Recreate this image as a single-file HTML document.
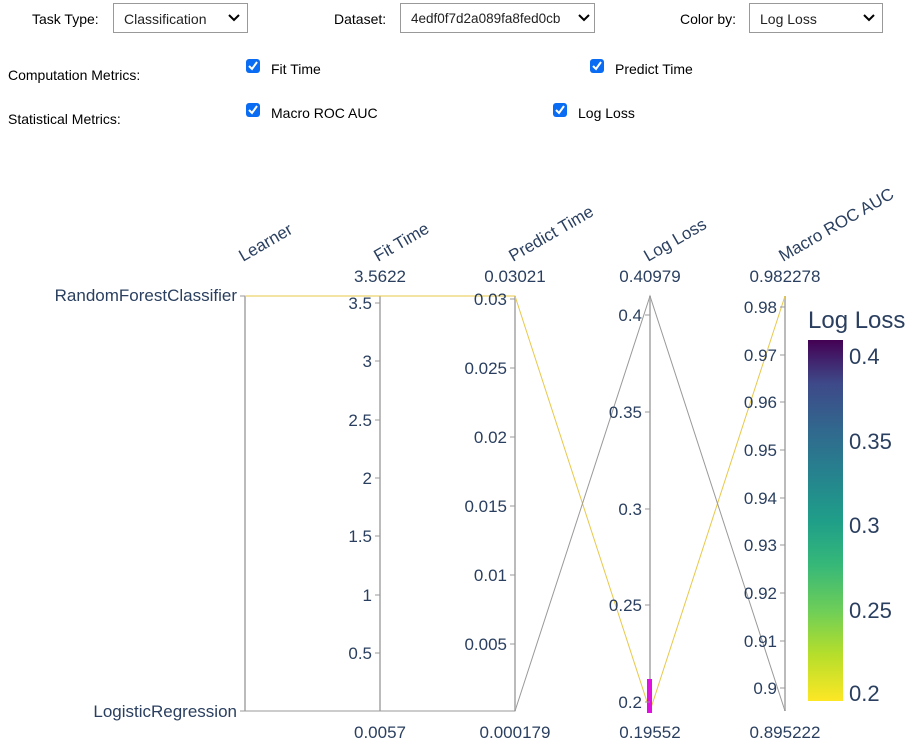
<!DOCTYPE html>
<html><head><style>
body{margin:0;width:923px;height:746px;background:#fff;font-family:"Liberation Sans",sans-serif;overflow:hidden;position:relative}
.l{position:absolute;font-size:14px;color:#000}
.sel{position:absolute;top:3px;height:30px;border:1px solid #999;box-sizing:border-box;font-size:14px;padding:7px 0 0 10px;color:#222}
.sel svg{position:absolute;right:6px;top:9px}
.cb{position:absolute;width:14px;height:14px;background:#0a6cf2;border-radius:3px}
.cb svg{position:absolute;left:2px;top:2px}
</style></head><body>
<div class="l" style="left:32px;top:11px">Task Type:</div>
<div class="sel" style="left:113px;width:135px">Classification<svg width="14" height="10"><path d="M2 2l5 5 5-5" stroke="#000" stroke-width="2" fill="none"/></svg></div>
<div class="l" style="left:334px;top:11px">Dataset:</div>
<div class="sel" style="left:400px;width:195px;padding-left:10px;font-size:13.5px">4edf0f7d2a089fa8fed0cb<svg width="14" height="10" style="right:3px"><path d="M2 2l5 5 5-5" stroke="#000" stroke-width="2" fill="none"/></svg></div>
<div class="l" style="left:680px;top:11px">Color by:</div>
<div class="sel" style="left:749px;width:134px">Log Loss<svg width="14" height="10"><path d="M2 2l5 5 5-5" stroke="#000" stroke-width="2" fill="none"/></svg></div>
<div class="l" style="left:8px;top:67px">Computation Metrics:</div>
<div class="l" style="left:8px;top:111px">Statistical Metrics:</div>
<div class="cb" style="left:246px;top:59px"><svg width="10" height="10"><path d="M1 5l3 3 5-7" stroke="#fff" stroke-width="2" fill="none"/></svg></div>
<div class="l" style="left:271px;top:61px">Fit Time</div>
<div class="cb" style="left:590px;top:59px"><svg width="10" height="10"><path d="M1 5l3 3 5-7" stroke="#fff" stroke-width="2" fill="none"/></svg></div>
<div class="l" style="left:615px;top:61px">Predict Time</div>
<div class="cb" style="left:246px;top:103px"><svg width="10" height="10"><path d="M1 5l3 3 5-7" stroke="#fff" stroke-width="2" fill="none"/></svg></div>
<div class="l" style="left:271px;top:105px">Macro ROC AUC</div>
<div class="cb" style="left:553px;top:103px"><svg width="10" height="10"><path d="M1 5l3 3 5-7" stroke="#fff" stroke-width="2" fill="none"/></svg></div>
<div class="l" style="left:578px;top:105px">Log Loss</div>
<svg width="923" height="746" style="position:absolute;left:0;top:0" font-family="Liberation Sans, sans-serif" fill="#2a3f5f" font-size="17">
<defs><linearGradient id="g" x1="0" y1="1" x2="0" y2="0">
<stop offset="0" stop-color="#fde725"/><stop offset="0.13" stop-color="#b5de2b"/><stop offset="0.25" stop-color="#6ece58"/><stop offset="0.38" stop-color="#35b779"/><stop offset="0.5" stop-color="#1f9e89"/><stop offset="0.63" stop-color="#26828e"/><stop offset="0.75" stop-color="#31688e"/><stop offset="0.88" stop-color="#3e4989"/><stop offset="1" stop-color="#440154"/></linearGradient></defs>
<g stroke="#bbb" stroke-width="2"><line x1="245" y1="296" x2="245" y2="711"/><line x1="380" y1="296" x2="380" y2="711"/><line x1="515" y1="296" x2="515" y2="711"/><line x1="650" y1="296" x2="650" y2="711"/><line x1="785" y1="296" x2="785" y2="711"/></g>
<polyline points="245,296 380,296 515,296 650,711 785,296" fill="none" stroke="#e8c84a" stroke-width="1"/>
<polyline points="245,711 380,711 515,711 650,296 785,711" fill="none" stroke="#999" stroke-width="1"/>
<rect x="647" y="679" width="5" height="34" fill="#e010e0"/>
<g stroke="#999" stroke-width="1">
<line x1="240" y1="296" x2="245" y2="296"/><line x1="240" y1="711" x2="245" y2="711"/>
<line x1="375" y1="303" x2="380" y2="303"/><line x1="375" y1="361" x2="380" y2="361"/><line x1="375" y1="420" x2="380" y2="420"/><line x1="375" y1="478" x2="380" y2="478"/><line x1="375" y1="536" x2="380" y2="536"/><line x1="375" y1="595" x2="380" y2="595"/><line x1="375" y1="653" x2="380" y2="653"/>
<line x1="510" y1="299" x2="515" y2="299"/><line x1="510" y1="368" x2="515" y2="368"/><line x1="510" y1="437" x2="515" y2="437"/><line x1="510" y1="506" x2="515" y2="506"/><line x1="510" y1="575" x2="515" y2="575"/><line x1="510" y1="644" x2="515" y2="644"/>
<line x1="645" y1="315" x2="650" y2="315"/><line x1="645" y1="412" x2="650" y2="412"/><line x1="645" y1="509" x2="650" y2="509"/><line x1="645" y1="605" x2="650" y2="605"/><line x1="645" y1="702" x2="650" y2="702"/>
<line x1="780" y1="307" x2="785" y2="307"/><line x1="780" y1="355" x2="785" y2="355"/><line x1="780" y1="402" x2="785" y2="402"/><line x1="780" y1="450" x2="785" y2="450"/><line x1="780" y1="498" x2="785" y2="498"/><line x1="780" y1="545" x2="785" y2="545"/><line x1="780" y1="593" x2="785" y2="593"/><line x1="780" y1="641" x2="785" y2="641"/><line x1="780" y1="688" x2="785" y2="688"/>
</g>
<g text-anchor="end">
<text x="237" y="301">RandomForestClassifier</text><text x="237" y="717">LogisticRegression</text>
<text x="372" y="309">3.5</text><text x="372" y="367">3</text><text x="372" y="426">2.5</text><text x="372" y="484">2</text><text x="372" y="542">1.5</text><text x="372" y="601">1</text><text x="372" y="659">0.5</text>
<text x="507" y="305">0.03</text><text x="507" y="374">0.025</text><text x="507" y="443">0.02</text><text x="507" y="512">0.015</text><text x="507" y="581">0.01</text><text x="507" y="650">0.005</text>
<text x="642" y="321">0.4</text><text x="642" y="418">0.35</text><text x="642" y="515">0.3</text><text x="642" y="611">0.25</text><text x="642" y="708">0.2</text>
<text x="777" y="313">0.98</text><text x="777" y="361">0.97</text><text x="777" y="408">0.96</text><text x="777" y="456">0.95</text><text x="777" y="504">0.94</text><text x="777" y="551">0.93</text><text x="777" y="599">0.92</text><text x="777" y="647">0.91</text><text x="777" y="694">0.9</text>
</g>
<g text-anchor="middle">
<text x="380" y="282">3.5622</text><text x="515" y="282">0.03021</text><text x="650" y="282">0.40979</text><text x="785" y="282">0.982278</text>
<text x="380" y="738">0.0057</text><text x="515" y="738">0.000179</text><text x="650" y="738">0.19552</text><text x="785" y="738">0.895222</text>
</g>
<g>
<text transform="translate(243,262) rotate(-30)">Learner</text>
<text transform="translate(378,262) rotate(-30)">Fit Time</text>
<text transform="translate(513,262) rotate(-30)">Predict Time</text>
<text transform="translate(648,262) rotate(-30)">Log Loss</text>
<text transform="translate(783,262) rotate(-30)">Macro ROC AUC</text>
</g>
<text x="808" y="328" font-size="24">Log Loss</text>
<rect x="808" y="340" width="35" height="361" fill="url(#g)"/>
<g font-size="22"><text x="849" y="364">0.4</text><text x="849" y="449">0.35</text><text x="849" y="533">0.3</text><text x="849" y="618">0.25</text><text x="849" y="701">0.2</text></g>
</svg>
</body></html>
